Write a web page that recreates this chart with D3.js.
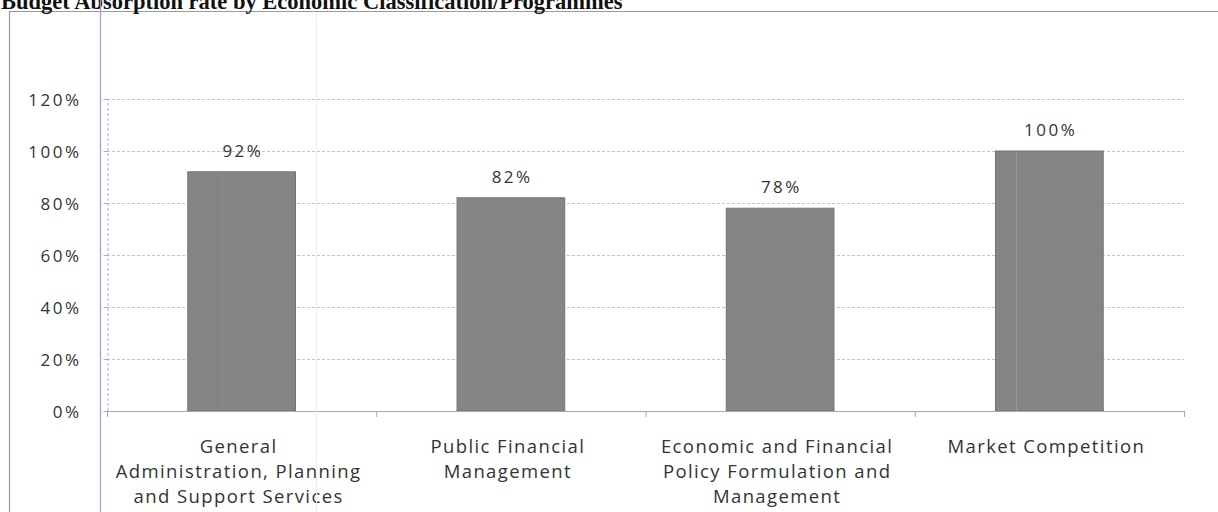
<!DOCTYPE html>
<html>
<head>
<meta charset="utf-8">
<script src="https://cdn.jsdelivr.net/npm/d3@7"></script>
<style>
  body { margin: 0; background: #fff; }
  svg { display: block; }
  .title { font-family: "Liberation Serif", serif; font-weight: bold; font-size: 22.5px; fill: #111; }
  .tick-label { font-family: "Open Sans", sans-serif; font-size: 17px; fill: #333; letter-spacing: 2.5px; }
  .cat-label { font-family: "Open Sans", sans-serif; font-size: 18.5px; fill: #333; letter-spacing: 1.4px; }
  .value-label { font-family: "Open Sans", sans-serif; font-size: 17px; fill: #333; letter-spacing: 2.5px; }
</style>
</head>
<body>
<div id="chart"></div>
<script>
const titleText = "Budget Absorption rate by Economic Classification/Programmes";
const categories = [
  "General\nAdministration, Planning\nand Support Services",
  "Public Financial\nManagement",
  "Economic and Financial\nPolicy Formulation and\nManagement",
  "Market Competition"
];
const absorption = [0.92, 0.82, 0.78, 1.00];
const yTicks = [0, 0.2, 0.4, 0.6, 0.8, 1.0, 1.2];

(function() {
  const width = 1218;
  const height = 512;

  const svg = d3.select("#chart").append("svg")
    .attr("width", width)
    .attr("height", height);

  // chart frame (cut off by the scan on right / bottom)
  svg.append("path")
    .attr("d", "M9.5," + height + "V11.5H" + width)
    .attr("fill", "none")
    .attr("stroke", "#9a9a9a")
    .attr("stroke-width", 1.2);

  // title is cut off at the top of the scan
  svg.append("text")
    .attr("class", "title")
    .attr("x", 1)
    .attr("y", 9)
    .text(titleText);

  const x = d3.scaleBand()
    .domain(categories)
    .range([107, 1184])
    .paddingInner(0.6)
    .paddingOuter(0.3);

  const y = d3.scaleLinear()
    .domain([0, 1.2])
    .range([411, 99]);

  // gridlines
  svg.append("g")
    .selectAll("line")
    .data(yTicks.slice(1))
    .join("line")
    .attr("x1", 107)
    .attr("x2", 1184)
    .attr("y1", d => y(d) + 0.5)
    .attr("y2", d => y(d) + 0.5)
    .attr("stroke", "#c4c4c4")
    .attr("stroke-dasharray", "3,2");

  // y axis
  const yAxis = d3.axisLeft(y)
    .tickValues(yTicks)
    .tickFormat(d3.format(".0%"))
    .tickSize(4)
    .tickPadding(22);

  const gy = svg.append("g")
    .attr("transform", "translate(107.5,0)")
    .call(yAxis);
  gy.select(".domain").attr("stroke", "#b0b0b0").attr("stroke-dasharray", "3,2");
  gy.selectAll(".tick line").attr("stroke", "#b0b0b0");
  gy.selectAll(".tick text")
    .attr("class", "tick-label")
    .attr("fill", null)
    .attr("dy", "0.36em");
  gy.attr("font-size", null).attr("font-family", null);

  // bars
  svg.append("g")
    .selectAll("rect")
    .data(absorption)
    .join("rect")
    .attr("x", (d, i) => x(categories[i]))
    .attr("y", d => y(d))
    .attr("width", x.bandwidth())
    .attr("height", d => y(0) - y(d))
    .attr("fill", "#858585")
    .attr("stroke", "#737373")
    .attr("stroke-width", 1);

  // value labels (trailing letter-spacing shifted back by half)
  svg.append("g")
    .selectAll("text")
    .data(absorption)
    .join("text")
    .attr("class", "value-label")
    .attr("x", (d, i) => x(categories[i]) + x.bandwidth() / 2 + 1.25)
    .attr("y", d => y(d) - 15)
    .attr("text-anchor", "middle")
    .text(d3.format(".0%"));

  // x axis with ticks at category boundaries
  const bounds = categories.map(c => x(c) - x.step() * x.paddingInner() / 2);
  bounds[0] = 107;
  bounds.push(1184);

  svg.append("line")
    .attr("x1", 107).attr("x2", 1184)
    .attr("y1", 411.5).attr("y2", 411.5)
    .attr("stroke", "#a8a8a8");

  svg.append("g")
    .selectAll("line")
    .data(bounds)
    .join("line")
    .attr("x1", d => d + 0.5).attr("x2", d => d + 0.5)
    .attr("y1", 411).attr("y2", 417)
    .attr("stroke", "#a8a8a8");

  // category labels
  const cat = svg.append("g")
    .selectAll("text")
    .data(categories)
    .join("text")
    .attr("class", "cat-label")
    .attr("text-anchor", "middle")
    .attr("transform", d => "translate(" + (x(d) + x.bandwidth() / 2 - 3) + ",453)");

  cat.selectAll("tspan")
    .data(d => d.split("\n"))
    .join("tspan")
    .attr("x", 0)
    .attr("y", (d, i) => i * 25)
    .text(d => d);

  // scan artefacts: margin line and faint fold lines
  svg.append("line")
    .attr("x1", 100.5).attr("x2", 100.5)
    .attr("y1", 0).attr("y2", height)
    .attr("stroke", "#b58fd4")
    .attr("stroke-width", 1.2);

  svg.append("line")
    .attr("x1", 316.5).attr("x2", 316.5)
    .attr("y1", 12).attr("y2", height)
    .attr("stroke", "#ececec");

  svg.append("line")
    .attr("x1", 222.5).attr("x2", 222.5)
    .attr("y1", y(absorption[0]) + 1).attr("y2", y(0))
    .attr("stroke", "#8090b8")
    .attr("stroke-opacity", 0.6);

  svg.append("line")
    .attr("x1", 1016.5).attr("x2", 1016.5)
    .attr("y1", y(absorption[3]) + 1).attr("y2", y(0))
    .attr("stroke", "#a8a880")
    .attr("stroke-opacity", 0.6);
}());
</script>
</body>
</html>
